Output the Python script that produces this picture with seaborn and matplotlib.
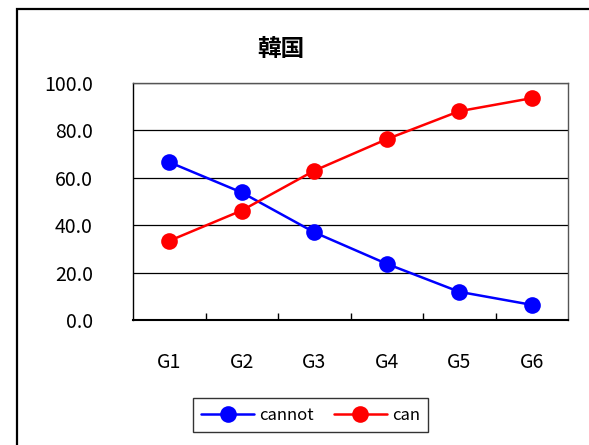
import matplotlib
matplotlib.use("Agg")
import matplotlib.pyplot as plt
import matplotlib.patches as mpatches
from matplotlib.ticker import FixedLocator
import seaborn as sns
import pandas as pd

categories = ["G1", "G2", "G3", "G4", "G5", "G6"]
cannot = [66.6, 53.8, 37.0, 23.7, 11.9, 6.4]
can = [33.4, 46.2, 63.0, 76.3, 88.1, 93.6]
series_names = ["cannot", "can"]
colors = ["#0000FF", "#FF0000"]
yticks = [0, 20, 40, 60, 80, 100]
title = "韓国"

sns.set_style("white")
plt.rcParams['font.family'] = ['Noto Sans CJK JP', 'DejaVu Sans']
plt.rcParams['text.color'] = 'black'
plt.rcParams['xtick.color'] = 'black'
plt.rcParams['ytick.color'] = 'black'
plt.rcParams['xtick.labelcolor'] = 'black'
plt.rcParams['ytick.labelcolor'] = 'black'

df = pd.DataFrame({
    "group": categories * 2,
    "value": cannot + can,
    "series": [series_names[0]] * len(categories) + [series_names[1]] * len(categories),
})

fig = plt.figure(figsize=(5.89, 4.45), dpi=100)
ax = fig.add_axes([133/589, (445-320)/445, (568-133)/589, (320-83)/445])

sns.lineplot(data=df, x="group", y="value", hue="series", palette=colors,
             hue_order=series_names, marker="o", markersize=12, linewidth=1.8,
             markeredgewidth=0, ax=ax, legend=True)

ax.set_xlim(-0.5, len(categories) - 0.5)
ax.set_ylim(0, 100)
ax.set_yticks(yticks)
ax.set_yticklabels([f"{v:.1f}" for v in yticks], fontsize=14)
ax.set_xticks(range(len(categories)))
ax.set_xticklabels(categories, fontsize=14)
ax.xaxis.set_minor_locator(FixedLocator([i + 0.5 for i in range(len(categories) - 1)]))
ax.tick_params(axis="x", which="major", length=0, pad=23)
ax.tick_params(axis="x", which="minor", bottom=True, length=5, direction="in", width=1, color="black")
ax.tick_params(axis="y", length=0, pad=29)
ax.set_xlabel("")
ax.set_ylabel("")
ax.grid(axis="y", color="black", linewidth=0.9)
ax.set_axisbelow(True)
for s in ax.spines.values():
    s.set_color("#555555")
    s.set_linewidth(1)
ax.spines["left"].set_color("black")
ax.spines["bottom"].set_color("black")
ax.spines["bottom"].set_linewidth(1.5)

fig.text(281/589, (445-49)/445, title, ha="center", va="center", fontsize=17, fontweight="bold")

handles, labels = ax.get_legend_handles_labels()
ax.legend_.remove()
leg = fig.legend(handles, labels, loc="center", bbox_to_anchor=(310.5/589, (445-415)/445),
                 ncol=2, frameon=True, fancybox=False, fontsize=12, handlelength=3.2,
                 columnspacing=1.2, handletextpad=0.3, borderpad=0.5)
leg.get_frame().set_edgecolor("black")
leg.get_frame().set_linewidth(1)

fig.patches.append(mpatches.Rectangle((17/589, -0.2), 1.2, (445-9)/445 + 0.2,
                                      transform=fig.transFigure, fill=False,
                                      edgecolor="black", linewidth=1.6))

fig.savefig("out.png", dpi=100)
